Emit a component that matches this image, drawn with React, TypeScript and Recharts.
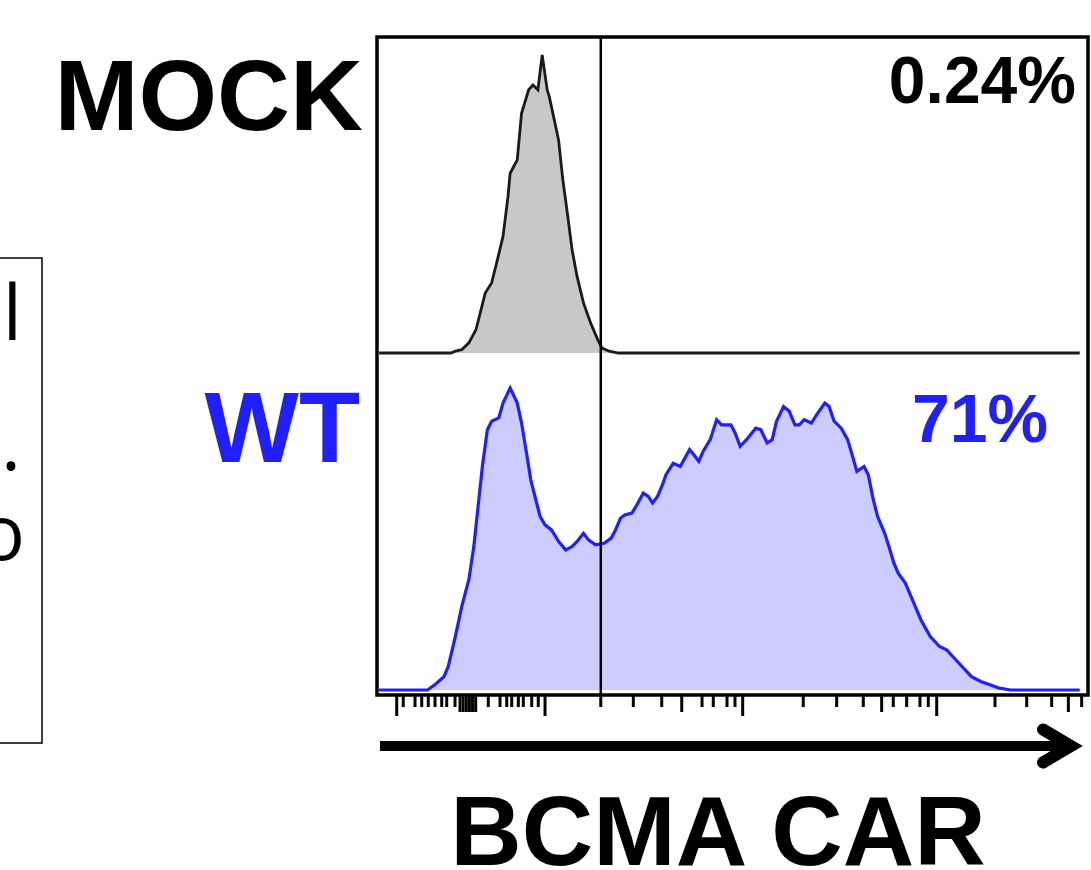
import React from 'react';
import { AreaChart, Area, XAxis, YAxis, ReferenceLine } from 'recharts';

// ---- data (channel on a 0–1000 display scale, count as % of peak) ----
const MOCK_CHANNEL = [3, 104, 110, 119, 129, 139, 152, 161, 168, 177, 184, 187, 197, 203, 213, 219, 226, 232, 239, 242, 248, 255, 261, 268, 274, 281, 290, 300, 310, 316, 326, 339, 987];
const MOCK_COUNT = [0, 0, 0.6, 1.1, 3.4, 7.8, 20.1, 23.5, 30.2, 39.1, 52.5, 60.3, 64.8, 80.4, 88.3, 89.9, 88.3, 100, 88.3, 86, 79.3, 71.5, 58.1, 45.8, 34.6, 25.7, 16.8, 10.1, 4.5, 1.7, 0.6, 0, 0];

const WT_CHANNEL = [3, 71, 81, 94, 100, 110, 119, 129, 136, 142, 148, 155, 161, 171, 177, 187, 197, 203, 210, 216, 223, 229, 236, 245, 255, 265, 274, 281, 290, 297, 307, 319, 329, 335, 342, 348, 358, 365, 374, 381, 387, 394, 400, 406, 416, 426, 439, 445, 452, 458, 468, 477, 484, 497, 503, 510, 519, 532, 539, 548, 555, 561, 571, 579, 587, 593, 600, 610, 619, 629, 635, 642, 652, 661, 668, 674, 684, 690, 697, 703, 713, 719, 726, 732, 742, 751, 764, 777, 790, 800, 809, 822, 835, 848, 861, 874, 890, 987];
const WT_COUNT = [0, 0, 1.7, 4.4, 7.7, 17.7, 27.6, 36.5, 47.5, 60.8, 74, 86.2, 89, 90.1, 95, 100, 95, 88.4, 78.5, 69.6, 63, 57.5, 54.7, 53, 49.2, 46.4, 47.5, 49.2, 51.9, 49.7, 48.1, 48.6, 50.3, 53, 56.9, 58, 58.6, 61.3, 65.2, 64.1, 61.9, 64.1, 67.4, 71.3, 75.1, 74, 79.6, 77.9, 75.7, 79, 82.9, 89.5, 87.8, 87.8, 85.1, 80.7, 82.9, 86.7, 86.2, 81.8, 82.9, 88.9, 93.9, 92.3, 87.8, 87.8, 89.5, 88.4, 91.7, 95, 93.9, 89, 86.7, 82.9, 77.3, 72.4, 74, 71.3, 63, 57.5, 51.9, 47.5, 42, 38.7, 35.4, 30.4, 23.2, 17.7, 14.4, 13.3, 11, 7.7, 4.4, 2.8, 1.7, 0.6, 0, 0];

const GATE = 314.3;

const TICK_MAJOR = [27.7, 236, 513.6, 786.1];
const TICK_MID = [116.6, 121, 125.4, 129.8, 134.2, 138.6, 428, 708.8, 971];
const TICK_MINOR = [36.9, 53.4, 62.8, 72, 81.5, 90.9, 97.9, 109.6, 156.3, 172.8, 182.2, 189.2, 198.5, 205.5, 217.3, 226.5, 314.3, 360, 399.9, 456.5, 472.3, 491.6, 502.8, 598.7, 645.6, 683, 725.1, 743.9, 762.6, 774.3, 868, 912.5, 947.6, 989.7];

const LABEL_MOCK = 'MOCK';
const LABEL_WT = 'WT';
const PCT_MOCK = '0.24%';
const PCT_WT = '71%';
const AXIS_TITLE = 'BCMA CAR';

const mockData = MOCK_CHANNEL.map((v, i) => ({ v, count: MOCK_COUNT[i] }));
const wtData = WT_CHANNEL.map((v, i) => ({ v, count: WT_COUNT[i] }));
const ALL_TICKS = [...TICK_MAJOR, ...TICK_MID, ...TICK_MINOR].sort((a, b) => a - b);

const BOLD = '"Liberation Sans", Arial, Helvetica, sans-serif';
const BLUE = '#1f1fff';

function Tick(props: any) {
  const { x, y, payload } = props;
  const val = payload && payload.value;
  const len = TICK_MAJOR.includes(val) ? 21 : TICK_MID.includes(val) ? 17 : 12;
  return <line x1={x} x2={x} y1={y} y2={y + len} stroke="#000" strokeWidth={3} />;
}

export default function App() {
  return (
    <div style={{ position: 'absolute', left: 0, top: 0, width: 1091, height: 870, overflow: 'hidden', background: '#fff' }}>
      <div style={{ position: 'absolute', left: 377, top: 34 }}>
        <AreaChart width={712} height={322} data={mockData} margin={{ top: 3, right: 0, bottom: 3, left: 0 }}>
          <XAxis dataKey="v" type="number" domain={[0, 1000]} hide />
          <YAxis type="number" domain={[0, 106]} hide />
          <Area type="linear" dataKey="count" stroke="#1a1a1a" strokeWidth={2.8} fill="#c8c8c8" fillOpacity={1} isAnimationActive={false} dot={false} activeDot={false} />
          <ReferenceLine x={GATE} stroke="#000" strokeWidth={2.5} />
        </AreaChart>
      </div>
      <div style={{ position: 'absolute', left: 377, top: 350 }}>
        <AreaChart width={712} height={370} data={wtData} margin={{ top: 3, right: 0, bottom: 0, left: 0 }}>
          <XAxis
            dataKey="v"
            type="number"
            domain={[0, 1000]}
            ticks={ALL_TICKS}
            interval={0}
            height={25}
            axisLine={false}
            tickLine={false}
            tickSize={0}
            tickMargin={0}
            tick={(p: any) => <Tick {...p} />}
          />
          <YAxis type="number" domain={[-1.66, 111.6]} hide />
          <Area type="linear" dataKey="count" baseValue={0} stroke={BLUE} strokeWidth={3.2} fill="#ccccff" fillOpacity={1} isAnimationActive={false} dot={false} activeDot={false} />
          <ReferenceLine x={GATE} stroke="#000" strokeWidth={2.5} />
        </AreaChart>
      </div>
      <svg width={1091} height={870} style={{ position: 'absolute', left: 0, top: 0, pointerEvents: 'none' }}>
        <rect x={377} y={37} width={711} height={658} fill="none" stroke="#000" strokeWidth={3.5} />
        <text x={363} y={130} textAnchor="end" fontFamily={BOLD} fontWeight="bold" fontSize={101} fill="#000">{LABEL_MOCK}</text>
        <text x={360} y={462} textAnchor="end" fontFamily={BOLD} fontWeight="bold" fontSize={100} fill={BLUE}>{LABEL_WT}</text>
        <text x={1076} y={103} textAnchor="end" fontFamily={BOLD} fontWeight="bold" fontSize={66} fill="#000">{PCT_MOCK}</text>
        <text x={1048} y={442} textAnchor="end" fontFamily={BOLD} fontWeight="bold" fontSize={68} fill={BLUE}>{PCT_WT}</text>
        <text x={718} y={865} textAnchor="middle" fontFamily={BOLD} fontWeight="bold" fontSize={99} fill="#000">{AXIS_TITLE}</text>
        <line x1={380} y1={746} x2={1070} y2={746} stroke="#000" strokeWidth={10} />
        <polyline points="1043,729.5 1071,746 1043,762.5" fill="none" stroke="#000" strokeWidth={12} strokeLinecap="round" strokeLinejoin="miter" />
        <rect x={-2} y={258} width={44} height={485} fill="none" stroke="#000" strokeWidth={1.5} />
        <text x={22} y={340} textAnchor="end" fontFamily='"Open Sans", "Noto Sans", sans-serif' fontSize={76} fill="#000">l</text>
        <text x={21} y={470} textAnchor="end" fontFamily='"Open Sans", "Noto Sans", sans-serif' fontSize={76} fill="#000">.</text>
        <text x={25} y={560} textAnchor="end" fontFamily='"Open Sans", "Noto Sans", sans-serif' fontSize={76} fill="#000">o</text>
      </svg>
    </div>
  );
}
